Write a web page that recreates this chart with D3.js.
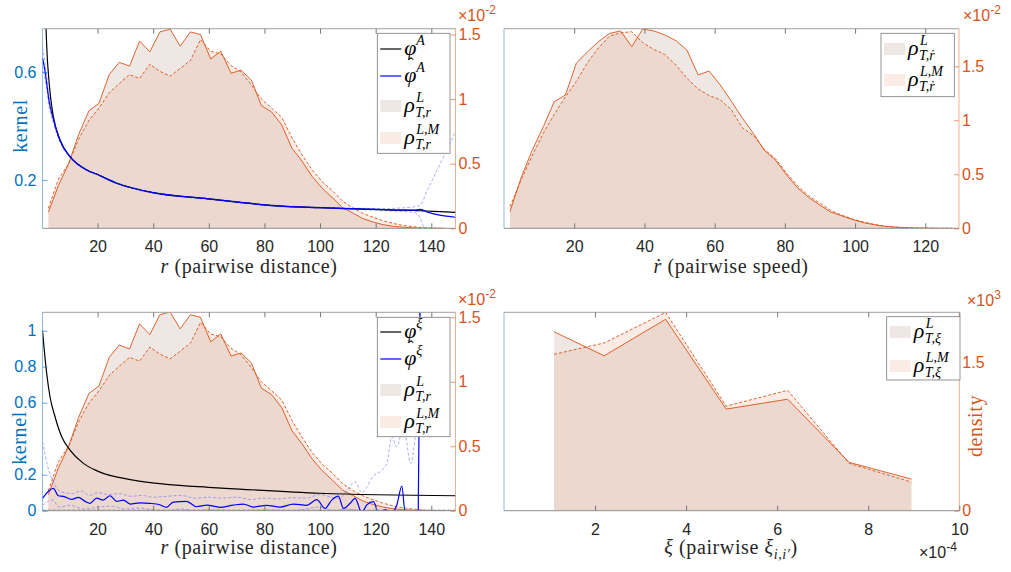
<!DOCTYPE html>
<html>
<head>
<meta charset="utf-8">
<title>Kernels and pairwise densities</title>
<script src="https://d3js.org/d3.v7.min.js"></script>
<style>
body { margin: 0; background: #fff; }
svg { display: block; }
</style>
</head>
<body>
<script>
// ---------- data ----------
// pairwise distance bins and densities (x 1e-2)
const rBins = [2.3, 5.9, 9.6, 13.2, 16.9, 20.5, 24.2, 27.8, 31.5, 35.1, 38.8, 42.4, 46.1, 49.7, 53.4, 57.0, 60.7, 64.3, 68.0, 71.6, 75.3, 78.9, 82.6, 86.2, 89.9, 93.5, 97.2, 100.8, 104.5, 108.1, 111.8, 115.4, 119.1, 122.7, 126.4, 130.0, 133.7, 137.3, 141.0, 144.6];
const rhoR_L = [0.124, 0.33, 0.50, 0.725, 0.91, 0.967, 1.19, 1.285, 1.255, 1.449, 1.366, 1.52, 1.541, 1.41, 1.52, 1.50, 1.31, 1.371, 1.20, 1.224, 1.147, 0.95, 0.90, 0.80, 0.62, 0.52, 0.40, 0.31, 0.235, 0.16, 0.118, 0.075, 0.048, 0.028, 0.015, 0.008, 0.003, 0.001, 0, 0];
const rhoR_LM = [0.155, 0.38, 0.50, 0.69, 0.835, 0.93, 1.05, 1.12, 1.19, 1.16, 1.27, 1.215, 1.178, 1.237, 1.30, 1.46, 1.37, 1.35, 1.26, 1.21, 1.11, 1.0, 0.93, 0.86, 0.70, 0.57, 0.45, 0.36, 0.29, 0.21, 0.157, 0.115, 0.085, 0.058, 0.037, 0.022, 0.012, 0.005, 0.001, 0];

// pairwise speed bins and densities (x 1e-2)
const vBins = [1.7, 4.9, 8.0, 11.2, 14.3, 17.5, 20.6, 23.8, 26.9, 30.1, 33.2, 36.4, 39.5, 42.7, 45.8, 49.0, 52.1, 55.3, 58.4, 61.6, 64.7, 67.9, 71.0, 74.2, 77.3, 80.5, 83.6, 86.8, 89.9, 93.1, 96.2, 99.4, 102.5, 105.7, 108.8, 112.0, 115.1, 118.3, 121.4, 124.6, 127.7];
const rhoV_L = [0.154, 0.47, 0.72, 0.94, 1.172, 1.234, 1.528, 1.635, 1.728, 1.805, 1.827, 1.681, 1.845, 1.827, 1.79, 1.737, 1.65, 1.42, 1.456, 1.327, 1.18, 1.02, 0.88, 0.72, 0.632, 0.494, 0.375, 0.285, 0.216, 0.15, 0.115, 0.08, 0.052, 0.032, 0.016, 0.009, 0.005, 0.002, 0.001, 0, 0];
const rhoV_LM = [0.2, 0.45, 0.67, 0.88, 1.055, 1.218, 1.36, 1.535, 1.67, 1.78, 1.81, 1.82, 1.72, 1.655, 1.61, 1.51, 1.39, 1.29, 1.23, 1.19, 1.10, 0.93, 0.86, 0.73, 0.645, 0.51, 0.395, 0.30, 0.235, 0.165, 0.122, 0.085, 0.056, 0.035, 0.019, 0.01, 0.006, 0.003, 0.001, 0, 0];

// alignment kernel (top left)
const kerA_r = [0.2, 1.0, 1.7, 2.6, 4.1, 6.5, 10.1, 16.1, 20, 26.9, 40, 59.8, 71.2, 80.8, 107.2, 124, 130, 133.6, 136, 138.4, 143, 148.7];
const phiA = [1.6, 0.95, 0.70, 0.558, 0.434, 0.348, 0.286, 0.237, 0.22, 0.188, 0.153, 0.13, 0.117, 0.107, 0.095, 0.089, 0.088, 0.087, 0.086, 0.085, 0.083, 0.080];
const phiHatA = [0.651, 0.61, 0.558, 0.49, 0.425, 0.346, 0.286, 0.237, 0.22, 0.188, 0.153, 0.13, 0.117, 0.107, 0.095, 0.090, 0.088, 0.088, 0.091, 0.082, 0.070, 0.062];
const phiHatA_hi = [0.69, 0.64, 0.585, 0.51, 0.44, 0.352, 0.289, 0.239, 0.222, 0.19, 0.155, 0.132, 0.119, 0.109, 0.097, 0.094, 0.097, 0.100, 0.107, 0.158, 0.256, 0.378];
const phiHatA_lo = [0.62, 0.58, 0.535, 0.47, 0.41, 0.34, 0.283, 0.235, 0.218, 0.186, 0.151, 0.128, 0.115, 0.105, 0.093, 0.086, 0.083, 0.080, 0.06, 0.0, 0.0, 0.0];

// xi kernel (bottom left)
const kerXi_r = [0.2, 1.7, 2.9, 4.7, 7.1, 10.1, 14.9, 20, 32.8, 44.8, 59.8, 71.2, 100, 148.7];
const phiXi = [1.0, 0.763, 0.633, 0.522, 0.411, 0.337, 0.263, 0.22, 0.17, 0.146, 0.13, 0.12, 0.097, 0.083];
const hatXi_r = [0.2, 4.1, 5.9, 7.7, 10.7, 13.1, 15.5, 17.3, 19.7, 22, 24.5, 26.9, 29.3, 31.7, 35.3, 38.8, 42.4, 44.8, 47.2, 52, 55.6, 59.3, 64, 68.8, 72.4, 76, 80.8, 85.6, 90.4, 95.2, 98.8, 101.8, 104.2, 106.6, 108.4, 110.8, 112.6, 115, 116.8, 119.2, 121, 123.4, 125.8, 127.6, 129.4, 130.6, 135.3, 136, 137];
const phiHatXi = [0.069, 0.124, 0.083, 0.080, 0.063, 0.074, 0.052, 0.041, 0.07, 0.059, 0.083, 0.052, 0.059, 0.037, 0.044, 0.041, 0.033, 0.019, 0.048, 0.052, 0.022, 0.031, 0.019, 0.031, 0.037, 0.02, 0.03, 0.02, 0.037, 0.03, 0.061, 0.013, 0.059, 0.081, 0.013, 0.041, 0.069, -0.01, 0.032, 0.05, -0.01, 0.005, -0.01, 0.032, 0.137, -0.01, -0.01, 1.3, 2.0];
const hiXi_r = [0.2, 2, 4.1, 5.9, 8, 11, 14, 17, 20, 24, 28, 32, 36, 40, 45, 50, 55, 60, 65, 70, 75, 80, 85, 90, 95, 100, 104, 107, 110, 112.6, 115, 116.8, 119, 121.6, 124, 125.8, 127.6, 130, 132.6, 134.2, 135.3, 136];
const phiHatXi_hi = [0.383, 0.25, 0.159, 0.115, 0.10, 0.095, 0.11, 0.085, 0.10, 0.09, 0.095, 0.08, 0.085, 0.075, 0.08, 0.085, 0.07, 0.075, 0.07, 0.075, 0.062, 0.07, 0.065, 0.072, 0.07, 0.09, 0.075, 0.068, 0.12, 0.161, 0.10, 0.13, 0.19, 0.217, 0.263, 0.411, 0.356, 0.467, 0.263, 0.411, 0.6, 1.3];
const loXi_r = [0.2, 4, 6, 10, 15, 20, 25, 30, 35, 40, 45, 50, 55, 60, 70, 80, 90, 100, 105, 110, 115, 120, 130, 148.7];
const phiHatXi_lo = [0.03, 0.06, 0.02, 0.03, 0.01, 0.02, 0.025, 0.01, 0.015, 0.005, 0.0, 0.01, 0.0, 0.005, 0.0, 0.005, 0.0, 0.02, 0.0, 0.01, 0.0, 0.0, 0.0, 0.0];

// pairwise xi bins (x 1e-4) and densities (x 1e3)
const xiBins = [1.1, 2.2, 3.55, 4.88, 6.23, 7.58, 8.95];
const rhoXi_L = [1.814, 1.57, 1.94, 1.03, 1.13, 0.49, 0.32];
const rhoXi_LM = [1.585, 1.70, 2.01, 1.06, 1.22, 0.48, 0.29];

const rTicks = [20, 40, 60, 80, 100, 120, 140];
const vTicks = [20, 40, 60, 80, 100, 120];
const xiTicks = [2, 4, 6, 8, 10];

// ---------- style ----------
const ORANGE = '#D95319', BLUE = '#0072BD';
const SANS = "'Liberation Sans'";
const SERIF = "'Liberation Serif'";
const FILL_L = 'rgba(200,175,165,0.3)';
const FILL_LM = 'rgba(230,150,110,0.18)';

const svg = d3.select('body').append('svg').attr('width', 1011).attr('height', 572);

const zip = (a, b) => a.map((v, i) => [v, b[i]]);

function panel(p) {
    let x = d3.scaleLinear().domain(p.xDom).range([p.x0, p.x1]);
    let yR = d3.scaleLinear().domain(p.yRDom).range([p.y1, p.y0]);
    let yL = d3.scaleLinear().domain(p.yLDom || [0, 1]).range([p.y1, p.y0]);
    svg.append('clipPath').attr('id', 'clip-' + p.name).append('rect')
        .attr('x', p.x0).attr('y', p.y0).attr('width', p.x1 - p.x0).attr('height', p.y1 - p.y0);
    let plot = svg.append('g').attr('clip-path', 'url(#clip-' + p.name + ')');
    return { x, yR, yL, plot, p };
}

function densities(P, xs, a, b) {
    let area = d3.area().x(d => P.x(d[0])).y0(P.yR(0)).y1(d => P.yR(d[1]));
    let line = d3.line().x(d => P.x(d[0])).y(d => P.yR(d[1]));
    P.plot.append('path').attr('d', area(zip(xs, a))).attr('fill', FILL_L);
    P.plot.append('path').attr('d', area(zip(xs, b))).attr('fill', FILL_LM);
    P.plot.append('path').attr('d', line(zip(xs, a))).attr('fill', 'none').attr('stroke', ORANGE).attr('stroke-width', 0.9);
    P.plot.append('path').attr('d', line(zip(xs, b))).attr('fill', 'none').attr('stroke', ORANGE).attr('stroke-width', 0.9).attr('stroke-dasharray', '3,2');
}

function kernel(P, xs, ys, color, width, dash, opacity) {
    let line = d3.line().curve(d3.curveMonotoneX).x(d => P.x(d[0])).y(d => P.yL(d[1]));
    let path = P.plot.append('path').attr('d', line(zip(xs, ys))).attr('fill', 'none')
        .attr('stroke', color).attr('stroke-width', width).attr('stroke-opacity', opacity || 1);
    if (dash) path.attr('stroke-dasharray', dash);
}

function axes(P, xTicks, yLTicks, yRTicks, padX) {
    let p = P.p;
    // frame
    svg.append('line').attr('x1', p.x0).attr('x2', p.x1).attr('y1', p.y0).attr('y2', p.y0).attr('stroke', '#a0a0a0');
    svg.append('line').attr('x1', p.x0).attr('x2', p.x1).attr('y1', p.y1).attr('y2', p.y1).attr('stroke', '#8f8f8f');
    svg.append('line').attr('x1', p.x0).attr('x2', p.x0).attr('y1', p.y0).attr('y2', p.y1).attr('stroke', BLUE).attr('stroke-opacity', 0.45);
    svg.append('line').attr('x1', p.x1).attr('x2', p.x1).attr('y1', p.y0).attr('y2', p.y1).attr('stroke', ORANGE).attr('stroke-opacity', 0.45);

    let gx = svg.append('g').attr('transform', 'translate(0,' + p.y1 + ')')
        .call(d3.axisBottom(P.x).tickValues(xTicks).tickSizeInner(-5).tickSizeOuter(0).tickPadding(padX));
    let gt = svg.append('g').attr('transform', 'translate(0,' + p.y0 + ')')
        .call(d3.axisTop(P.x).tickValues(xTicks).tickSizeInner(-5).tickSizeOuter(0).tickFormat(() => ''));
    [gx, gt].forEach(g => {
        g.select('.domain').remove();
        g.selectAll('.tick line').attr('stroke', '#777');
    });
    gx.selectAll('text').style('font-family', SANS).style('font-size', '16px').attr('fill', '#262626');

    if (yLTicks) {
        let gl = svg.append('g').attr('transform', 'translate(' + p.x0 + ',0)')
            .call(d3.axisLeft(P.yL).tickValues(yLTicks).tickSizeInner(-5).tickSizeOuter(0).tickPadding(6).tickFormat(d => d));
        gl.select('.domain').remove();
        gl.selectAll('.tick line').attr('stroke', BLUE).attr('stroke-opacity', 0.6);
        gl.selectAll('text').style('font-family', SANS).style('font-size', '16px').attr('fill', BLUE);
    }
    let gr = svg.append('g').attr('transform', 'translate(' + p.x1 + ',0)')
        .call(d3.axisRight(P.yR).tickValues(yRTicks).tickSizeInner(-5).tickSizeOuter(0).tickPadding(3).tickFormat(d => d));
    gr.select('.domain').remove();
    gr.selectAll('.tick line').attr('stroke', ORANGE).attr('stroke-opacity', 0.6);
    gr.selectAll('text').style('font-family', SANS).style('font-size', '16px').attr('fill', ORANGE);
}

// "x10^e" exponent labels
function exponent(x, y, e, color) {
    let t = svg.append('text').attr('x', x).attr('y', y).style('font-family', SANS).style('font-size', '16px').attr('fill', color);
    t.append('tspan').text('\u00d710');
    t.append('tspan').attr('dy', -7).style('font-size', '12px').text(e);
}

// axis label made of parts {t, it (italic), sub}
function label(cx, cy, parts, color, rotate) {
    let t = svg.append('text').style('font-family', SERIF).style('font-size', '20px').attr('fill', color || '#262626')
        .attr('letter-spacing', 0.6).attr('text-anchor', 'middle');
    if (rotate) t.attr('transform', 'translate(' + cx + ',' + cy + ') rotate(-90)');
    else t.attr('x', cx).attr('y', cy);
    let shift = 0;
    parts.forEach(pt => {
        let s = t.append('tspan').text(pt.t);
        if (pt.it) s.style('font-style', 'italic');
        let want = pt.sub ? 5 : 0;
        if (want !== shift) { s.attr('dy', want - shift); shift = want; }
        if (pt.sub) s.style('font-size', '14px');
    });
}

// legend symbols
function mathSym(x, yc, base, sup, sub, hat) {
    let txt = (tx, ty, size, s, upright) => svg.append('text').attr('x', tx).attr('y', ty)
        .style('font-family', SERIF).style('font-size', size + 'px').style('font-style', upright ? 'normal' : 'italic')
        .attr('fill', '#000').text(s);
    txt(x, yc + 6, 22, base);
    if (hat) txt(x + 4, yc - 7, 16, '\u02c6', true);
    if (sup) txt(x + 12, yc - 4, 14, sup);
    if (sub) txt(x + 11, yc + 11, 14, sub);
}

function legend(box, items) {
    svg.append('rect').attr('x', box[0]).attr('y', box[1]).attr('width', box[2] - box[0]).attr('height', box[3] - box[1])
        .attr('fill', '#fff').attr('stroke', '#7a7a7a').attr('stroke-width', 0.8);
    items.forEach(it => {
        let sx = box[0] + 3;
        if (it.line) {
            svg.append('line').attr('x1', sx).attr('x2', sx + 21).attr('y1', it.y).attr('y2', it.y)
                .attr('stroke', it.line).attr('stroke-width', 1.2);
        } else {
            svg.append('rect').attr('x', sx).attr('y', it.y - 6).attr('width', 21).attr('height', 12).attr('fill', it.fill);
        }
        mathSym(sx + 24, it.y, it.base, it.sup, it.sub, it.hat);
    });
}

// ---------- top left: alignment kernel ----------
let TL = panel({ name: 'tl', x0: 42.5, x1: 455.5, y0: 28.7, y1: 228.3, xDom: [0.2, 148.7], yLDom: [0.021, 0.760], yRDom: [0, 1.545] });
densities(TL, rBins, rhoR_L, rhoR_LM);
kernel(TL, kerA_r, phiHatA_hi, '#6a6aff', 0.8, '3,2', 0.7);
kernel(TL, kerA_r, phiHatA_lo, '#6a6aff', 0.8, '3,2', 0.7);
kernel(TL, kerA_r, phiA, '#000', 1.2);
kernel(TL, kerA_r, phiHatA, '#0000ff', 1.2);
axes(TL, rTicks, [0.2, 0.6], [0, 0.5, 1, 1.5], 12);
exponent(458, 21, '-2', ORANGE);
label(249, 273, [{ t: 'r', it: true }, { t: '  (pairwise distance)' }]);
label(27, 126, [{ t: 'kernel' }], BLUE, true);
legend([377.3, 33.3, 450, 153.3], [
    { y: 49, line: '#000', base: '\u03c6', sup: 'A' },
    { y: 76, line: '#0000ff', base: '\u03c6', sup: 'A', hat: true },
    { y: 106, fill: FILL_L, base: '\u03c1', sup: 'L', sub: 'T,r' },
    { y: 138, fill: FILL_LM, base: '\u03c1', sup: 'L,M', sub: 'T,r' }
]);

// ---------- top right: pairwise speed ----------
let TR = panel({ name: 'tr', x0: 504, x1: 959, y0: 28.7, y1: 228.3, xDom: [0, 129.6], yRDom: [0, 1.848] });
densities(TR, vBins, rhoV_L, rhoV_LM);
axes(TR, vTicks, null, [0, 0.5, 1, 1.5], 12);
exponent(963, 21, '-2', ORANGE);
label(731, 273, [{ t: 'r\u0307', it: true }, { t: '  (pairwise speed)' }]);
legend([881, 33.3, 954.3, 96.7], [
    { y: 49, fill: FILL_L, base: '\u03c1', sup: 'L', sub: 'T,r\u0307' },
    { y: 80, fill: FILL_LM, base: '\u03c1', sup: 'L,M', sub: 'T,r\u0307' }
]);

// ---------- bottom left: xi kernel ----------
let BL = panel({ name: 'bl', x0: 42.5, x1: 455.5, y0: 312.3, y1: 510.7, xDom: [0.2, 148.7], yLDom: [0, 1.102], yRDom: [0, 1.539] });
densities(BL, rBins, rhoR_L, rhoR_LM);
BL.plot.append('line').attr('x1', BL.p.x0).attr('x2', BL.p.x1).attr('y1', BL.yL(0.003)).attr('y2', BL.yL(0.003))
    .attr('stroke', '#888').attr('stroke-dasharray', '3,2');
kernel(BL, hiXi_r, phiHatXi_hi, '#6a6aff', 0.8, '3,2', 0.7);
kernel(BL, loXi_r, phiHatXi_lo, '#6a6aff', 0.8, '3,2', 0.7);
kernel(BL, kerXi_r, phiXi, '#000', 1.2);
kernel(BL, hatXi_r, phiHatXi, '#0000ff', 1.2);
axes(BL, rTicks, [0, 0.2, 0.6, 0.8, 1], [0, 0.5, 1, 1.5], 12.5);
exponent(458, 305, '-2', ORANGE);
label(249, 554, [{ t: 'r', it: true }, { t: '  (pairwise distance)' }]);
label(26, 438, [{ t: 'kernel' }], BLUE, true);
legend([377.3, 317.3, 450, 436.7], [
    { y: 332, line: '#000', base: '\u03c6', sup: '\u03be' },
    { y: 359, line: '#0000ff', base: '\u03c6', sup: '\u03be', hat: true },
    { y: 390, fill: FILL_L, base: '\u03c1', sup: 'L', sub: 'T,r' },
    { y: 422, fill: FILL_LM, base: '\u03c1', sup: 'L,M', sub: 'T,r' }
]);

// ---------- bottom right: pairwise xi ----------
let BR = panel({ name: 'br', x0: 504, x1: 959.3, y0: 312.3, y1: 510.7, xDom: [0, 10], yRDom: [0, 2.011] });
densities(BR, xiBins, rhoXi_L, rhoXi_LM);
axes(BR, xiTicks, null, [0, 1.5], 12.5);
exponent(967, 306, '3', ORANGE);
exponent(919, 558, '-4', '#262626');
label(731, 554, [{ t: '\u03be', it: true }, { t: '  (pairwise ' }, { t: '\u03be', it: true }, { t: 'i,i\u2032', it: true, sub: true }, { t: ')' }]);
label(982, 426, [{ t: 'density' }], ORANGE, true);
legend([886.7, 316.7, 960, 380], [
    { y: 332, fill: FILL_L, base: '\u03c1', sup: 'L', sub: 'T,\u03be' },
    { y: 366, fill: FILL_LM, base: '\u03c1', sup: 'L,M', sub: 'T,\u03be' }
]);
</script>
</body>
</html>
